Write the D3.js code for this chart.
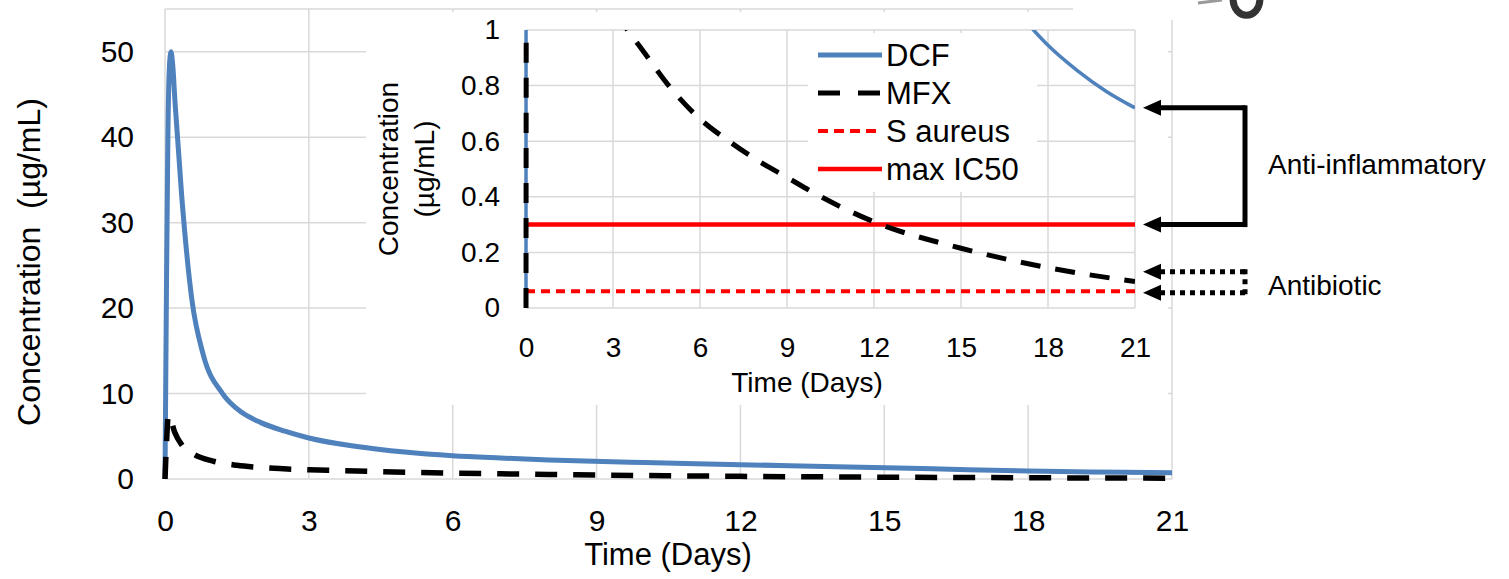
<!DOCTYPE html>
<html>
<head>
<meta charset="utf-8">
<script src="https://cdn.jsdelivr.net/npm/d3@7"></script>
<style>
  body { margin: 0; background: #fff; }
  text { font-family: "Liberation Sans", Arial, sans-serif; fill: #000; }
</style>
</head>
<body>
<div id="chart"></div>
<script>
// ---- data ----
const dcfDays = [0, 0.03, 0.06, 0.09, 0.125, 0.16, 0.21, 0.35, 0.56, 0.8, 1.2, 1.6, 2, 2.5, 3, 4, 5, 6, 7, 8, 10, 12, 14, 16, 17.5, 18, 19, 20, 21];
const dcfConc = [0, 22, 40, 48, 50, 48.5, 44, 33, 21, 14.5, 10, 7.8, 6.6, 5.6, 4.8, 3.8, 3.15, 2.72, 2.45, 2.22, 1.92, 1.68, 1.43, 1.19, 1.0, 0.945, 0.855, 0.78, 0.72];

const mfxDays = [0, 0.03, 0.07, 0.1, 0.2, 0.35, 0.6, 1, 1.5, 2, 3, 3.5, 4, 5, 6, 7, 8, 9, 10, 12, 15, 18, 21];
const mfxConc = [0, 4, 7.5, 7.3, 5.5, 4, 2.9, 2.1, 1.6, 1.35, 1.08, 1.0, 0.93, 0.79, 0.68, 0.6, 0.53, 0.47, 0.41, 0.31, 0.215, 0.145, 0.095];

const sAureusMIC = 0.06;
const maxIC50 = 0.3;

const xTicks = [0, 3, 6, 9, 12, 15, 18, 21];
const mainYTicks = [0, 10, 20, 30, 40, 50];
const insetYTicks = [0, 0.2, 0.4, 0.6, 0.8, 1];
const insetYLabels = ["0", "0.2", "0.4", "0.6", "0.8", "1"];

const legendLabels = ["DCF", "MFX", "S aureus", "max IC50"];
const antiInflamLevels = [0.72, 0.3];   // arrow targets on the inset
const antibioticLevels = [0.13, 0.055];

// ---- setup ----
const W = 1509, H = 579;
const grid = "#d9d9d9";
const blue = "#4f81bd";
const red = "#ff0000";

const svg = d3.select("#chart").append("svg")
  .attr("width", W).attr("height", H);

const dcf = dcfDays.map((d, i) => ({ t: d, v: dcfConc[i] }));
const mfx = mfxDays.map((d, i) => ({ t: d, v: mfxConc[i] }));

// main chart scales
const x = d3.scaleLinear().domain([0, 21]).range([165, 1172]);
const y = d3.scaleLinear().domain([0, 55]).range([479, 9]);

// inset scales
const xi = d3.scaleLinear().domain([0, 21]).range([526, 1135]);
const yi = d3.scaleLinear().domain([0, 1]).range([308, 30]);

// ---- main grid ----
const main = svg.append("g");
main.selectAll(".hgrid").data(mainYTicks.concat([55])).enter().append("line")
  .attr("x1", x(0)).attr("x2", x(21))
  .attr("y1", d => y(d)).attr("y2", d => y(d))
  .attr("stroke", grid).attr("stroke-width", 1.5);
main.selectAll(".vgrid").data(xTicks).enter().append("line")
  .attr("x1", d => x(d)).attr("x2", d => x(d))
  .attr("y1", y(0)).attr("y2", y(55))
  .attr("stroke", grid).attr("stroke-width", 1.5);

// main axes labels
main.append("g")
  .attr("transform", `translate(${x(0)},0)`)
  .call(d3.axisLeft(y).tickValues(mainYTicks).tickSize(0).tickPadding(31).tickFormat(d3.format("d")))
  .call(g => g.select(".domain").remove())
  .selectAll("text").style("font-size", "30px").attr("fill", "#000");

main.append("g")
  .attr("transform", `translate(0,${y(0)})`)
  .call(d3.axisBottom(x).tickValues(xTicks).tickSize(0).tickPadding(31).tickFormat(d3.format("d")))
  .call(g => g.select(".domain").remove())
  .selectAll("text").style("font-size", "30px").attr("fill", "#000");

main.append("text")
  .attr("transform", "translate(40,262) rotate(-90)")
  .attr("text-anchor", "middle")
  .style("font-size", "32px")
  .style("white-space", "pre")
  .text("Concentration  (\u00b5g/mL)");

main.append("text")
  .attr("x", 668).attr("y", 565)
  .attr("text-anchor", "middle")
  .style("font-size", "31px")
  .text("Time (Days)");

// main lines
const lineMain = d3.line().x(d => x(d.t)).y(d => y(d.v)).curve(d3.curveMonotoneX);
main.append("path").datum(dcf)
  .attr("fill", "none").attr("stroke", blue).attr("stroke-width", 5)
  .attr("d", lineMain);
main.append("path").datum(mfx)
  .attr("fill", "none").attr("stroke", "#000").attr("stroke-width", 5.5)
  .attr("stroke-dasharray", "22,16")
  .attr("d", lineMain);

// ---- inset ----
const inset = svg.append("g");
inset.append("rect")
  .attr("x", 366).attr("y", 12).attr("width", 802).attr("height", 393)
  .attr("fill", "#fff");

inset.selectAll(".ihgrid").data(insetYTicks).enter().append("line")
  .attr("x1", xi(0)).attr("x2", xi(21))
  .attr("y1", d => yi(d)).attr("y2", d => yi(d))
  .attr("stroke", grid).attr("stroke-width", 1.5);
inset.selectAll(".ivgrid").data(xTicks).enter().append("line")
  .attr("x1", d => xi(d)).attr("x2", d => xi(d))
  .attr("y1", yi(0)).attr("y2", yi(1))
  .attr("stroke", grid).attr("stroke-width", 1.5);

inset.append("g")
  .attr("transform", `translate(${xi(0)},0)`)
  .call(d3.axisLeft(yi).tickValues(insetYTicks).tickSize(0).tickPadding(26).tickFormat((d, i) => insetYLabels[i]))
  .call(g => g.select(".domain").remove())
  .selectAll("text").style("font-size", "28px").attr("fill", "#000");

inset.append("g")
  .attr("transform", `translate(0,${yi(0)})`)
  .call(d3.axisBottom(xi).tickValues(xTicks).tickSize(0).tickPadding(29).tickFormat(d3.format("d")))
  .call(g => g.select(".domain").remove())
  .selectAll("text").style("font-size", "28px").attr("fill", "#000");

inset.append("text")
  .attr("transform", "translate(398,169) rotate(-90)")
  .attr("text-anchor", "middle")
  .style("font-size", "28px")
  .text("Concentration");
inset.append("text")
  .attr("transform", "translate(434,169) rotate(-90)")
  .attr("text-anchor", "middle")
  .style("font-size", "28px")
  .text("(\u00b5g/mL)");

inset.append("text")
  .attr("x", 807).attr("y", 392)
  .attr("text-anchor", "middle")
  .style("font-size", "28px")
  .text("Time (Days)");

// legend box (white, covers grid)
const legend = inset.append("g");
legend.append("rect")
  .attr("x", 808).attr("y", 33).attr("width", 229).attr("height", 159)
  .attr("fill", "#fff");

inset.append("clipPath").attr("id", "insetClip")
  .append("rect").attr("x", 521).attr("y", yi(1)).attr("width", xi(21) - 521).attr("height", yi(0) - yi(1) + 3);

const lineInset = d3.line().x(d => xi(d.t)).y(d => yi(d.v)).curve(d3.curveMonotoneX);
const plot = inset.append("g").attr("clip-path", "url(#insetClip)");

plot.append("line")
  .attr("x1", xi(0)).attr("x2", xi(21))
  .attr("y1", yi(sAureusMIC)).attr("y2", yi(sAureusMIC))
  .attr("stroke", red).attr("stroke-width", 4).attr("stroke-dasharray", "9,6");
plot.append("line")
  .attr("x1", xi(0)).attr("x2", xi(21))
  .attr("y1", yi(maxIC50)).attr("y2", yi(maxIC50))
  .attr("stroke", red).attr("stroke-width", 4.5);
plot.append("path").datum(dcf)
  .attr("fill", "none").attr("stroke", blue).attr("stroke-width", 3.5)
  .attr("d", lineInset);
plot.append("path").datum(mfx)
  .attr("fill", "none").attr("stroke", "#000").attr("stroke-width", 5)
  .attr("stroke-dasharray", "20,15")
  .attr("d", lineInset);

// legend entries
const legendStyles = [
  { stroke: blue, width: 5, dash: null },
  { stroke: "#000", width: 5, dash: "22,18" },
  { stroke: red, width: 4, dash: "10,6" },
  { stroke: red, width: 4.5, dash: null }
];
legendLabels.forEach(function (label, i) {
  const ly = 55 + i * 38;
  const st = legendStyles[i];
  legend.append("line")
    .attr("x1", 818).attr("x2", 882).attr("y1", ly).attr("y2", ly)
    .attr("stroke", st.stroke).attr("stroke-width", st.width)
    .attr("stroke-dasharray", st.dash);
  legend.append("text")
    .attr("x", 886).attr("y", ly + 11)
    .style("font-size", "31px")
    .text(label);
});

// ---- annotation arrows ----
function bracket(levels, dash) {
  const xTip = 1143, xEdge = 1245;
  const y0 = yi(levels[0]), y1 = yi(levels[1]);
  levels.forEach(function (lv) {
    svg.append("line")
      .attr("x1", xEdge).attr("x2", xTip + 16)
      .attr("y1", yi(lv)).attr("y2", yi(lv))
      .attr("stroke", "#000").attr("stroke-width", 5)
      .attr("stroke-dasharray", dash);
    svg.append("path")
      .attr("d", `M${xTip},${yi(lv)} L${xTip + 18},${yi(lv) - 8} L${xTip + 18},${yi(lv) + 8} Z`)
      .attr("fill", "#000");
  });
  svg.append("line")
    .attr("x1", xEdge).attr("x2", xEdge)
    .attr("y1", y0 - 2.5).attr("y2", y1 + 2.5)
    .attr("stroke", "#000").attr("stroke-width", 5)
    .attr("stroke-dasharray", dash);
}
bracket(antiInflamLevels, null);
bracket(antibioticLevels, "5,5");

svg.append("text")
  .attr("x", 1268).attr("y", 174)
  .style("font-size", "28px")
  .text("Anti-inflammatory");
svg.append("text")
  .attr("x", 1268).attr("y", 295)
  .style("font-size", "28px")
  .text("Antibiotic");

// cropped logo fragment at the top edge
svg.append("rect").attr("x", 1073).attr("y", 0).attr("width", 250).attr("height", 20).attr("fill", "#fff");
svg.append("path")
  .attr("d", "M1198,3 L1222,0")
  .attr("fill", "none").attr("stroke", "#999").attr("stroke-width", 3);
svg.append("path")
  .attr("d", "M1233,-2 C1233,21 1260,21 1260,-2")
  .attr("fill", "none").attr("stroke", "#333").attr("stroke-width", 7);
</script>
</body>
</html>
